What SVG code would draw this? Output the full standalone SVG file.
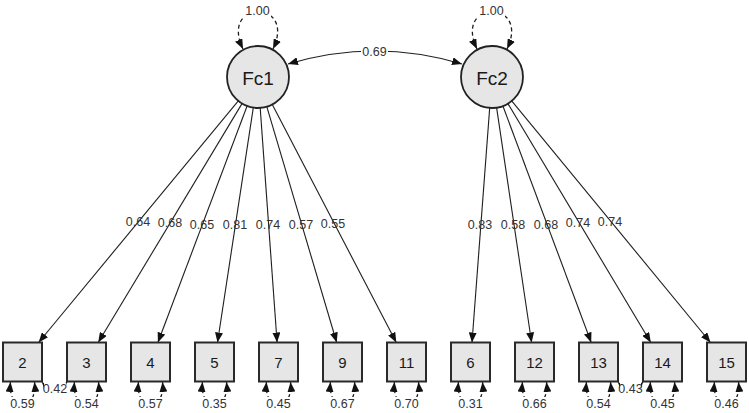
<svg xmlns="http://www.w3.org/2000/svg" width="749" height="413" viewBox="0 0 749 413">
<style>
  .lat { fill: #e6e6e6; stroke: #222; stroke-width: 1.8; }
  .man { fill: #e6e6e6; stroke: #2a2a2a; stroke-width: 2; }
  .ntxt { font-family: "Liberation Sans", Arial, sans-serif; fill: #1a1a1a; text-anchor: middle; }
  .edge { fill: none; stroke: #1e1e1e; stroke-width: 1.1; }
  .dash { fill: none; stroke: #1e1e1e; stroke-width: 1.3; stroke-dasharray: 4 3; }
  .lbl { font-family: "Liberation Sans", Arial, sans-serif; font-size: 12.5px; fill: #333; text-anchor: middle; }
  .bg { fill: #ffffff; }
</style>
<defs>
  <marker id="ah" viewBox="0 0 10 8" refX="10" refY="4" markerWidth="10" markerHeight="8" markerUnits="userSpaceOnUse" orient="auto-start-reverse">
    <path d="M0,0 L10,4 L0,8 z" fill="#111"/>
  </marker>
</defs>

<g id="connectors">
  <!-- latent variances -->
  <path class="dash" d="M243 49 C219 -1 297 -1 273 49" marker-start="url(#ah)" marker-end="url(#ah)"/>
  <path class="dash" d="M477 49 C453 -1 531 -1 507 49" marker-start="url(#ah)" marker-end="url(#ah)"/>
  <!-- latent covariance -->
  <path class="edge" d="M288 64 Q375 38 462 64" marker-start="url(#ah)" marker-end="url(#ah)"/>
  <!-- loadings Fc1 -->
  <path class="edge" d="M238.3 100.9 L38.6 342.5" marker-end="url(#ah)"/>
  <path class="edge" d="M242.0 103.6 L98.2 342.5" marker-end="url(#ah)"/>
  <path class="edge" d="M247.1 106.0 L157.9 342.5" marker-end="url(#ah)"/>
  <path class="edge" d="M253.3 107.6 L217.5 342.5" marker-end="url(#ah)"/>
  <path class="edge" d="M260.2 107.9 L277.1 342.5" marker-end="url(#ah)"/>
  <path class="edge" d="M266.8 106.7 L336.7 342.5" marker-end="url(#ah)"/>
  <path class="edge" d="M272.3 104.5 L396.3 342.5" marker-end="url(#ah)"/>
  <!-- loadings Fc2 -->
  <path class="edge" d="M489.7 107.9 L472.0 342.5" marker-end="url(#ah)"/>
  <path class="edge" d="M496.6 107.7 L531.6 342.5" marker-end="url(#ah)"/>
  <path class="edge" d="M502.9 106.0 L591.2 342.5" marker-end="url(#ah)"/>
  <path class="edge" d="M507.9 103.6 L650.8 342.5" marker-end="url(#ah)"/>
  <path class="edge" d="M511.7 100.9 L710.5 342.5" marker-end="url(#ah)"/>
  <!-- residual variances -->
  <path class="dash" d="M10.5 382 C7.5 413 37.5 413 34.5 382" marker-start="url(#ah)" marker-end="url(#ah)"/>
  <path class="dash" d="M74.5 382 C71.5 413 101.5 413 98.5 382" marker-start="url(#ah)" marker-end="url(#ah)"/>
  <path class="dash" d="M138.5 382 C135.5 413 165.5 413 162.5 382" marker-start="url(#ah)" marker-end="url(#ah)"/>
  <path class="dash" d="M202.5 382 C199.5 413 229.5 413 226.5 382" marker-start="url(#ah)" marker-end="url(#ah)"/>
  <path class="dash" d="M266.5 382 C263.5 413 293.5 413 290.5 382" marker-start="url(#ah)" marker-end="url(#ah)"/>
  <path class="dash" d="M330.5 382 C327.5 413 357.5 413 354.5 382" marker-start="url(#ah)" marker-end="url(#ah)"/>
  <path class="dash" d="M394.5 382 C391.5 413 421.5 413 418.5 382" marker-start="url(#ah)" marker-end="url(#ah)"/>
  <path class="dash" d="M458.5 382 C455.5 413 485.5 413 482.5 382" marker-start="url(#ah)" marker-end="url(#ah)"/>
  <path class="dash" d="M522.5 382 C519.5 413 549.5 413 546.5 382" marker-start="url(#ah)" marker-end="url(#ah)"/>
  <path class="dash" d="M586.5 382 C583.5 413 613.5 413 610.5 382" marker-start="url(#ah)" marker-end="url(#ah)"/>
  <path class="dash" d="M650.5 382 C647.5 413 677.5 413 674.5 382" marker-start="url(#ah)" marker-end="url(#ah)"/>
  <path class="dash" d="M714.5 382 C711.5 413 741.5 413 738.5 382" marker-start="url(#ah)" marker-end="url(#ah)"/>
  <!-- residual covariances -->
  <path class="edge" d="M42 382 Q54.5 398 67 382" marker-start="url(#ah)" marker-end="url(#ah)"/>
  <path class="edge" d="M618 382 Q630.5 398 643 382" marker-start="url(#ah)" marker-end="url(#ah)"/>

  <!-- labels with background -->
  <rect class="bg" x="244" y="5" width="27" height="12"/>
  <text class="lbl" x="257.5" y="15">1.00</text>
  <rect class="bg" x="478" y="5" width="27" height="12"/>
  <text class="lbl" x="491.5" y="15">1.00</text>
  <rect class="bg" x="361" y="46" width="27" height="12"/>
  <text class="lbl" x="374.5" y="56">0.69</text>

  <!-- loading labels -->
  <text class="lbl" x="138" y="225.5">0.64</text>
  <text class="lbl" x="170" y="226.5">0.68</text>
  <text class="lbl" x="202" y="228.5">0.65</text>
  <text class="lbl" x="235" y="229">0.81</text>
  <text class="lbl" x="268" y="229">0.74</text>
  <text class="lbl" x="301" y="228.5">0.57</text>
  <text class="lbl" x="333" y="227.5">0.55</text>
  <text class="lbl" x="480" y="229">0.83</text>
  <text class="lbl" x="513" y="229">0.58</text>
  <text class="lbl" x="546" y="228.5">0.68</text>
  <text class="lbl" x="578" y="226.5">0.74</text>
  <text class="lbl" x="610" y="225.5">0.74</text>

  <!-- residual labels -->
  <rect class="bg" x="8.5" y="397" width="28" height="13"/>
  <text class="lbl" x="22.5" y="407.5">0.59</text>
  <rect class="bg" x="72.5" y="397" width="28" height="13"/>
  <text class="lbl" x="86.5" y="407.5">0.54</text>
  <rect class="bg" x="136.5" y="397" width="28" height="13"/>
  <text class="lbl" x="150.5" y="407.5">0.57</text>
  <rect class="bg" x="200.5" y="397" width="28" height="13"/>
  <text class="lbl" x="214.5" y="407.5">0.35</text>
  <rect class="bg" x="264.5" y="397" width="28" height="13"/>
  <text class="lbl" x="278.5" y="407.5">0.45</text>
  <rect class="bg" x="328.5" y="397" width="28" height="13"/>
  <text class="lbl" x="342.5" y="407.5">0.67</text>
  <rect class="bg" x="392.5" y="397" width="28" height="13"/>
  <text class="lbl" x="406.5" y="407.5">0.70</text>
  <rect class="bg" x="456.5" y="397" width="28" height="13"/>
  <text class="lbl" x="470.5" y="407.5">0.31</text>
  <rect class="bg" x="520.5" y="397" width="28" height="13"/>
  <text class="lbl" x="534.5" y="407.5">0.66</text>
  <rect class="bg" x="584.5" y="397" width="28" height="13"/>
  <text class="lbl" x="598.5" y="407.5">0.54</text>
  <rect class="bg" x="648.5" y="397" width="28" height="13"/>
  <text class="lbl" x="662.5" y="407.5">0.45</text>
  <rect class="bg" x="712.5" y="397" width="28" height="13"/>
  <text class="lbl" x="726.5" y="407.5">0.46</text>

  <!-- residual covariance labels -->
  <rect class="bg" x="44" y="383" width="22" height="11"/>
  <text class="lbl" x="55" y="392.5">0.42</text>
  <rect class="bg" x="620" y="383" width="21" height="11"/>
  <text class="lbl" x="630.5" y="392.5">0.43</text>
</g>

<g id="Fc1"><circle class="lat" cx="258" cy="77" r="31"/><text class="ntxt" x="258" y="84.5" font-size="19">Fc1</text></g>
<g id="Fc2"><circle class="lat" cx="492" cy="77" r="31"/><text class="ntxt" x="492" y="84.5" font-size="19">Fc2</text></g>

<g id="v2"><rect class="man" x="3" y="342.5" width="39" height="39"/><text class="ntxt" x="22.5" y="367.5" font-size="15">2</text></g>
<g id="v3"><rect class="man" x="67" y="342.5" width="39" height="39"/><text class="ntxt" x="86.5" y="367.5" font-size="15">3</text></g>
<g id="v4"><rect class="man" x="131" y="342.5" width="39" height="39"/><text class="ntxt" x="150.5" y="367.5" font-size="15">4</text></g>
<g id="v5"><rect class="man" x="195" y="342.5" width="39" height="39"/><text class="ntxt" x="214.5" y="367.5" font-size="15">5</text></g>
<g id="v7"><rect class="man" x="259" y="342.5" width="39" height="39"/><text class="ntxt" x="278.5" y="367.5" font-size="15">7</text></g>
<g id="v9"><rect class="man" x="323" y="342.5" width="39" height="39"/><text class="ntxt" x="342.5" y="367.5" font-size="15">9</text></g>
<g id="v11"><rect class="man" x="387" y="342.5" width="39" height="39"/><text class="ntxt" x="406.5" y="367.5" font-size="15">11</text></g>
<g id="v6"><rect class="man" x="451" y="342.5" width="39" height="39"/><text class="ntxt" x="470.5" y="367.5" font-size="15">6</text></g>
<g id="v12"><rect class="man" x="515" y="342.5" width="39" height="39"/><text class="ntxt" x="534.5" y="367.5" font-size="15">12</text></g>
<g id="v13"><rect class="man" x="579" y="342.5" width="39" height="39"/><text class="ntxt" x="598.5" y="367.5" font-size="15">13</text></g>
<g id="v14"><rect class="man" x="643" y="342.5" width="39" height="39"/><text class="ntxt" x="662.5" y="367.5" font-size="15">14</text></g>
<g id="v15"><rect class="man" x="707" y="342.5" width="39" height="39"/><text class="ntxt" x="726.5" y="367.5" font-size="15">15</text></g>
</svg>
